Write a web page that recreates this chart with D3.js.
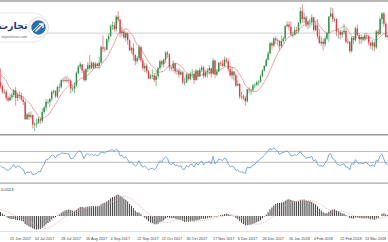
<!DOCTYPE html>
<html><head><meta charset="utf-8">
<script src="https://cdn.jsdelivr.net/npm/d3@7"></script>
<style>html,body{margin:0;padding:0;background:#fff;overflow:hidden}svg{display:block}</style>
</head><body>
<svg id="c" width="388" height="242"></svg>
<script>
// Daily gold candles, 14 Jun 2017 .. 29 Mar 2018 (one entry per bar)
const openP=[1266,1261,1254,1254,1246,1243,1247,1250,1256,1246,1250,1249,1244,1241,1219,1225,1222,1224,1212,1213,
1214,1219,1217,1228,1234,1241,1241,1245,1254,1255,1248,1260,1260,1269,1269,1268,1269,1268,1258,1258,
1262,1278,1286,1289,1281,1269,1283,1288,1284,1291,1285,1290,1287,1291,1311,1309,1308,1321,1325,1338,
1339,1334,1350,1346,1329,1331,1323,1329,1320,1307,1310,1301,1293,1297,1311,1294,1284,1287,1280,1271,
1274,1275,1269,1274,1284,1293,1289,1295,1304,1302,1285,1284,1290,1280,1281,1276,1279,1266,1266,1276,
1270,1277,1277,1269,1281,1274,1282,1285,1274,1279,1281,1284,1277,1294,1276,1280,1291,1290,1287,1295,
1293,1283,1275,1280,1275,1262,1264,1248,1248,1246,1242,1257,1256,1256,1262,1263,1266,1267,1274,1281,
1287,1295,1303,1316,1313,1322,1320,1319,1312,1319,1322,1338,1340,1337,1327,1327,1333,1332,1342,1357,
1347,1349,1340,1344,1344,1349,1333,1339,1325,1316,1318,1315,1322,1329,1350,1354,1347,1347,1331,1331,
1327,1330,1332,1318,1318,1306,1323,1320,1335,1326,1321,1324,1321,1326,1325,1317,1313,1317,1311,1331,
1328,1347,1354,1341,1324];
const highP=[1284,1263,1257,1257,1249,1251,1253,1258,1260,1253,1255,1253,1248,1243,1227,1228,1229,1225,1215,1220,
1222,1221,1233,1236,1245,1244,1246,1256,1257,1256,1262,1265,1270,1272,1274,1274,1272,1270,1262,1266,
1280,1288,1292,1290,1283,1284,1292,1301,1293,1292,1292,1291,1298,1313,1326,1312,1322,1328,1340,1344,
1343,1352,1357,1347,1337,1333,1331,1330,1321,1312,1316,1302,1300,1314,1313,1297,1291,1290,1282,1277,
1283,1278,1281,1286,1295,1295,1297,1306,1306,1303,1287,1294,1291,1284,1284,1282,1281,1272,1278,1277,
1280,1283,1281,1283,1282,1285,1288,1287,1282,1284,1288,1285,1297,1295,1283,1292,1293,1295,1299,1298,
1297,1287,1286,1280,1277,1269,1265,1254,1251,1249,1258,1260,1258,1264,1265,1268,1269,1276,1283,1288,
1297,1306,1318,1318,1324,1325,1322,1320,1326,1325,1339,1344,1344,1344,1331,1337,1337,1343,1362,1366,
1355,1351,1345,1348,1353,1350,1344,1347,1334,1325,1322,1325,1331,1351,1362,1361,1349,1348,1335,1333,
1333,1341,1335,1322,1319,1325,1325,1337,1340,1329,1327,1326,1329,1329,1327,1318,1320,1318,1333,1334,
1350,1356,1356,1343,1327];
const lowP=[1258,1251,1251,1243,1241,1242,1244,1247,1236,1242,1245,1242,1237,1218,1218,1218,1219,1207,1204,1208,
1213,1213,1214,1226,1230,1238,1235,1242,1251,1246,1246,1254,1258,1266,1266,1266,1264,1252,1254,1252,
1260,1276,1283,1278,1267,1267,1279,1282,1283,1283,1284,1284,1283,1290,1305,1305,1307,1317,1325,1333,
1331,1331,1343,1324,1325,1322,1318,1314,1306,1303,1294,1288,1290,1294,1292,1281,1279,1277,1270,1270,
1270,1266,1261,1271,1282,1285,1285,1291,1297,1281,1280,1280,1277,1276,1272,1275,1264,1262,1265,1268,
1269,1271,1264,1268,1269,1273,1279,1271,1272,1272,1276,1272,1276,1272,1274,1279,1287,1286,1286,1290,
1280,1273,1270,1268,1260,1261,1245,1244,1243,1236,1240,1252,1250,1255,1259,1261,1262,1266,1273,1280,
1286,1294,1302,1308,1311,1315,1313,1307,1310,1316,1319,1336,1332,1326,1323,1326,1328,1329,1340,1342,
1342,1337,1334,1336,1339,1331,1331,1322,1316,1313,1307,1312,1320,1318,1349,1343,1343,1325,1322,1321,
1323,1327,1316,1315,1303,1304,1315,1318,1325,1315,1315,1318,1319,1321,1313,1309,1307,1306,1309,1325,
1327,1340,1337,1323,1322];
const closeP=[1261,1254,1254,1246,1243,1247,1250,1256,1246,1250,1249,1244,1241,1219,1225,1222,1224,1212,1213,1214,
1219,1217,1228,1234,1241,1241,1245,1254,1255,1248,1260,1260,1269,1269,1268,1269,1268,1258,1258,1262,
1278,1286,1289,1281,1269,1283,1288,1284,1291,1285,1290,1287,1291,1311,1309,1308,1321,1325,1338,1339,
1334,1350,1346,1329,1331,1323,1329,1320,1307,1310,1301,1293,1297,1311,1294,1284,1287,1280,1271,1274,
1275,1269,1274,1284,1293,1289,1295,1304,1302,1285,1284,1290,1280,1281,1276,1279,1266,1266,1276,1270,
1277,1277,1269,1281,1274,1282,1285,1274,1279,1281,1284,1277,1294,1276,1280,1291,1290,1287,1295,1293,
1283,1275,1280,1275,1262,1264,1248,1248,1246,1242,1257,1256,1256,1262,1263,1266,1267,1274,1281,1287,
1295,1303,1316,1313,1322,1320,1319,1312,1319,1322,1338,1340,1337,1327,1327,1333,1332,1342,1357,1347,
1349,1340,1344,1344,1349,1333,1339,1325,1316,1318,1315,1322,1329,1350,1354,1347,1347,1331,1331,1327,
1330,1332,1318,1318,1306,1323,1320,1335,1326,1321,1324,1321,1326,1325,1317,1313,1317,1311,1331,1328,
1347,1354,1341,1324,1325];
// moving average line (pink) read per bar
const maLine=[1275.3,1273.8,1271.3,1267.8,1262.8,1258.9,1255.9,1254.4,1252.4,1250.7,1249.5,1248.5,1247.2,1244.5,1242.7,1240.2,1237.6,1233.2,1229.9,1226.3,
1223.3,1220.6,1219.3,1220.8,1222.4,1224.3,1226.4,1230.6,1234.8,1238.2,1242.3,1246.6,1250.7,1254.2,1256.9,1259.7,1262.0,1262.4,1262.7,1264.1,
1265.9,1268.5,1270.5,1271.7,1271.8,1273.2,1275.2,1277.8,1281.1,1283.4,1284.6,1284.7,1284.9,1287.9,1291.9,1294.4,1297.7,1301.8,1306.5,1311.9,
1316.3,1322.6,1328.1,1329.9,1332.1,1333.6,1334.4,1333.9,1330.8,1327.9,1324.6,1318.9,1314.0,1312.2,1308.5,1304.6,1300.4,1296.4,1292.8,1289.2,
1286.6,1284.2,1281.9,1279.2,1279.1,1279.6,1280.4,1282.8,1285.9,1287.0,1287.9,1290.0,1290.6,1290.3,1288.6,1287.6,1284.7,1280.9,1278.3,1276.8,
1276.1,1274.8,1273.7,1273.7,1273.5,1273.8,1275.7,1276.5,1276.8,1277.9,1278.6,1278.6,1281.1,1280.6,1281.2,1282.1,1282.6,1283.9,1285.5,1286.7,
1286.6,1286.4,1285.0,1284.9,1283.1,1280.4,1276.2,1272.3,1267.4,1262.3,1259.7,1257.8,1255.4,1254.1,1254.2,1254.4,1256.3,1258.9,1262.4,1266.9,
1270.7,1275.4,1281.4,1286.5,1292.4,1297.8,1303.0,1306.8,1310.6,1314.1,1318.4,1322.1,1324.2,1325.6,1326.1,1327.4,1328.7,1331.7,1335.5,1338.0,
1339.1,1339.1,1339.8,1341.5,1343.7,1343.7,1344.4,1342.7,1338.6,1335.7,1332.3,1330.5,1329.0,1329.6,1330.1,1331.5,1332.3,1332.9,1334.4,1335.3,
1336.8,1337.8,1336.7,1333.5,1328.7,1326.3,1323.6,1324.0,1323.5,1322.9,1322.3,1321.2,1322.0,1322.7,1323.8,1322.8,1322.5,1320.1,1320.6,1321.3,
1323.6,1326.9,1328.4,1328.3,1329.1];
// oscillator (blue line) per bar
const rsiVal=[44,40,40,36,35,38,41,46,40,43,42,39,37,28,32,31,33,27,28,29,
33,32,41,46,55,55,59,63,63,58,64,64,67,67,66,66,65,57,57,60,
67,70,71,65,57,64,66,63,66,62,64,62,64,69,68,67,70,71,73,73,
71,74,72,62,63,58,60,55,49,51,47,43,46,53,45,41,43,40,36,38,
39,36,40,47,53,50,57,60,57,47,46,50,44,45,42,44,37,37,44,41,
46,46,41,49,45,50,52,45,49,50,52,47,61,47,50,56,55,53,58,56,
47,42,43,41,35,36,32,32,31,29,41,40,40,45,46,51,53,57,59,63,
67,71,76,73,77,73,71,65,67,68,70,71,68,62,62,64,63,66,70,64,
62,57,59,59,61,52,55,47,43,44,42,49,53,64,66,57,55,48,46,44,
46,47,41,41,36,48,46,55,50,47,49,47,50,49,45,43,45,42,54,52,
62,65,56,47,47];
const rsiLevels=[70,50];
// MACD histogram and signal per bar
const macdVal=[4,2.5,1.2,-0.5,-2,-2.8,-3.2,-3,-3.8,-4,-4.2,-4.8,-5.5,-8,-9.3,-10.5,-11.2,-12.5,-13.3,-13.6,
-13.3,-13,-11.8,-10.3,-8.5,-7,-5.5,-3.6,-2,-1.2,0.3,1.5,3.2,4.5,5.4,6.1,6.5,5.9,5.3,5.1,
6.2,7.6,8.9,9.2,8.4,8.8,9.5,9.6,10.1,10,10.1,9.9,10,11.7,12.7,13.3,14.6,15.8,17.6,18.9,
19.3,20.8,21.4,20.2,19.1,17.4,16.4,14.6,12.1,10.2,7.9,5.4,3.7,3.4,1.8,-0.3,-1.7,-3.3,-5.2,-6.4,
-7.2,-8.2,-8.4,-7.7,-6.3,-5.5,-4.3,-2.6,-1.4,-1.8,-2.2,-2,-2.7,-3.1,-3.7,-3.9,-5.1,-5.9,-5.6,-5.8,
-5.4,-5,-5.3,-4.4,-4.2,-3.5,-2.7,-2.9,-2.6,-2.2,-1.6,-1.6,-0.3,-0.7,-0.7,0.2,0.9,1.2,2,2.4,
1.9,0.9,0.5,-0.3,-2,-3.1,-5.1,-6.6,-8,-9.4,-9.1,-8.9,-8.6,-7.8,-7.1,-6.2,-5.4,-4.1,-2.4,-0.6,
1.5,3.8,6.6,8.5,10.6,12,12.9,13,13.4,13.8,15.3,16.4,16.8,16.1,15.4,15.1,14.6,14.9,16.2,16.3,
16.4,15.6,15.1,14.6,14.4,12.7,11.7,9.6,7.2,5.4,3.7,2.9,2.8,4.3,5.8,6.3,6.6,5.5,4.6,3.5,
2.8,2.4,0.9,-0.3,-2.2,-2.3,-2.6,-1.6,-1.6,-2,-2.1,-2.4,-2.2,-2.1,-2.6,-3.3,-3.4,-3.9,-2.7,-2,
0,2.1,2.6,1.6,0.9];
const signalVal=[6.5,6,5.4,4.6,3.7,2.8,1.8,0.9,0,-0.9,-1.8,-2.6,-3.3,-4,-4.8,-5.7,-6.7,-7.7,-8.7,-9.7,
-10.6,-11.4,-12,-12.3,-12.3,-12,-11.3,-10.3,-9.1,-7.8,-6.4,-5,-3.6,-2.2,-0.9,0.4,1.6,2.7,3.6,4.3,
4.9,5.5,6.1,6.7,7.2,7.6,8,8.4,8.8,9.2,9.5,9.7,9.8,10.1,10.5,11,11.6,12.4,13.4,14.5,
15.6,16.8,17.9,18.7,19.2,19.4,19.3,18.9,18.1,17,15.6,14,12.3,10.6,9,7.3,5.6,3.9,2.3,0.8,
-0.6,-1.9,-3.1,-4.2,-5,-5.7,-6.3,-6.5,-6.4,-6,-5.4,-4.8,-4.2,-3.6,-3.2,-3,-3.2,-3.5,-3.9,-4.3,
-4.6,-4.9,-5.1,-5.2,-5.1,-4.9,-4.6,-4.3,-3.9,-3.5,-3.1,-2.7,-2.3,-1.9,-1.5,-1.1,-0.7,-0.3,0.1,0.5,
0.8,1,1.1,1,0.7,0.2,-0.6,-1.6,-2.7,-3.9,-5,-6,-6.9,-7.5,-7.9,-8.1,-8,-7.7,-7.1,-6.3,
-5.3,-4.1,-2.7,-1.2,0.5,2.3,4.1,5.9,7.6,9.1,10.4,11.6,12.6,13.5,14.2,14.7,15,15.2,15.3,15.4,
15.5,15.6,15.6,15.5,15.3,14.9,14.3,13.5,12.5,11.3,10,8.6,7.3,6.2,5.4,4.9,4.7,4.6,4.6,4.6,
4.5,4.3,3.8,3.1,2.2,1.3,0.4,-0.3,-0.9,-1.4,-1.8,-2,-2.1,-2.1,-2.2,-2.3,-2.5,-2.7,-2.8,-2.8,
-2.5,-2,-1.3,-0.6,-0.1];
const macdLabel="0.0113";
const levelPrice=1329;
// time axis labels (bar index where each label starts)
const tickIndex=[5,18,32,45,58,72,85,98,112,125,138,152,165,179,192];
const tickLabels=["21 Jun 2017","10 Jul 2017","28 Jul 2017","16 Aug 2017","4 Sep 2017","22 Sep 2017","11 Oct 2017","30 Oct 2017","17 Nov 2017","6 Dec 2017","26 Dec 2017","16 Jan 2018","4 Feb 2018","22 Feb 2018","13 Mar 2018"];

const svg=d3.select("#c");
const n=closeP.length;
const idx=d3.range(n);
const x=d3.scaleLinear().domain([0,n-1]).range([0.5,0.5+(n-1)*1.898]);
const y=d3.scaleLinear().domain([1200,1367.5]).range([134,3]);
const yR=d3.scaleLinear().domain([0,100]).range([189.3,135.3]);
const yM=d3.scaleLinear().domain([-14,22]).range([230,194]);

const defs=svg.append("defs");
function clip(id,y0,y1){defs.append("clipPath").attr("id",id).append("rect").attr("x",0).attr("y",y0).attr("width",388).attr("height",y1-y0);}
clip("cm",2,134);clip("cr",135.5,182.5);clip("cd",184,231);

svg.append("rect").attr("width",388).attr("height",242).attr("fill","#fff");
// frame lines
svg.append("line").attr("x1",0).attr("x2",388).attr("y1",1).attr("y2",1).attr("stroke","#b8b8b8").attr("stroke-width",2);
svg.append("line").attr("x1",0).attr("x2",388).attr("y1",y(levelPrice)).attr("y2",y(levelPrice)).attr("stroke","#cfcfcf").attr("stroke-width",1);
svg.append("line").attr("x1",0).attr("x2",388).attr("y1",134.8).attr("y2",134.8).attr("stroke","#9a9a9a").attr("stroke-width",1.4);
svg.append("line").attr("x1",0).attr("x2",388).attr("y1",183.2).attr("y2",183.2).attr("stroke","#a8a8a8").attr("stroke-width",1.2);
svg.append("line").attr("x1",0).attr("x2",388).attr("y1",231.5).attr("y2",231.5).attr("stroke","#dcdcdc").attr("stroke-width",0.8);

// main panel
const gm=svg.append("g").attr("clip-path","url(#cm)");
gm.append("path").datum(idx).attr("fill","none").attr("stroke","#e38d8d").attr("stroke-width",0.8)
  .attr("d",d3.line().x(i=>x(i)).y(i=>y(maLine[i])));
const up="#2f8f46", dn="#e23c4c";
const cg=gm.selectAll("g.c").data(idx).join("g");
cg.append("line").attr("x1",i=>x(i)).attr("x2",i=>x(i)).attr("y1",i=>y(highP[i])).attr("y2",i=>y(lowP[i]))
  .attr("stroke",i=>closeP[i]>=openP[i]?up:dn).attr("stroke-width",0.6);
cg.append("rect").attr("x",i=>x(i)-0.7).attr("width",1.4)
  .attr("y",i=>y(Math.max(openP[i],closeP[i])))
  .attr("height",i=>Math.max(0.6,Math.abs(y(openP[i])-y(closeP[i]))))
  .attr("fill",i=>closeP[i]>=openP[i]?up:dn);

// oscillator panel
const gr=svg.append("g").attr("clip-path","url(#cr)");
gr.selectAll("line.lv").data(rsiLevels).join("line").attr("x1",0).attr("x2",388)
  .attr("y1",d=>yR(d)).attr("y2",d=>yR(d)).attr("stroke","#b4b4b4").attr("stroke-width",0.9);
gr.append("path").datum(idx).attr("fill","none").attr("stroke","#5b96d2").attr("stroke-width",0.8)
  .attr("d",d3.line().x(i=>x(i)).y(i=>yR(rsiVal[i])));

// MACD panel
const gd=svg.append("g").attr("clip-path","url(#cd)");
gd.selectAll("line.h").data(idx).join("line").attr("x1",i=>x(i)).attr("x2",i=>x(i))
  .attr("y1",yM(0)).attr("y2",i=>yM(macdVal[i])).attr("stroke","#2a2a2a").attr("stroke-width",0.9);
gd.append("path").datum(idx).attr("fill","none").attr("stroke","#e8a0a0").attr("stroke-width",0.7)
  .attr("stroke-dasharray","1.2,0.8")
  .attr("d",d3.line().x(i=>x(i)).y(i=>yM(signalVal[i])));
svg.append("text").attr("x",1).attr("y",190.5).attr("font-family","Liberation Sans, Arial, sans-serif")
  .attr("font-size",4.2).attr("fill","#333").text(macdLabel);

// time labels
svg.selectAll("text.t").data(tickIndex).join("text").attr("class","t")
  .attr("x",d=>x(d)).attr("y",239.5).attr("font-family","Liberation Sans, Arial, sans-serif")
  .attr("font-size",3.8).attr("fill","#444").text((d,k)=>tickLabels[k]);

// logo
const lg=svg.append("g");
lg.append("rect").attr("x",-14).attr("y",13).attr("width",62).attr("height",29).attr("rx",14.5)
  .attr("fill","#fff").attr("stroke","#e2e2e2").attr("stroke-width",0.8);
lg.append("circle").attr("cx",38.5).attr("cy",27.5).attr("r",10).attr("fill","#fff").attr("stroke","#d5d5d5").attr("stroke-width",0.8);
lg.append("circle").attr("cx",38.5).attr("cy",27.5).attr("r",7.2).attr("fill","#2a6db0");
[-3,0,3].forEach(o=>lg.append("line").attr("x1",33+o).attr("y1",31-o).attr("x2",37+o).attr("y2",27-o).attr("stroke","#fff").attr("stroke-width",0.9));
lg.append("path").attr("d","M35.5,31.5 L42.5,24.5 M39,24 L43,24 L43,28").attr("fill","none").attr("stroke","#fff").attr("stroke-width",1.3);
lg.append("text").attr("x",27.5).attr("y",29).attr("text-anchor","end").attr("font-family","DejaVu Sans, sans-serif")
  .attr("font-weight","bold").attr("font-size",9.5).attr("fill","#1c3a6e").text("تجارت");
lg.append("text").attr("x",27).attr("y",37.5).attr("text-anchor","end").attr("font-family","Liberation Sans, Arial, sans-serif")
  .attr("font-size",3.5).attr("fill","#6a6a6a").text("tejaratnews.com");
</script>
</body></html>
